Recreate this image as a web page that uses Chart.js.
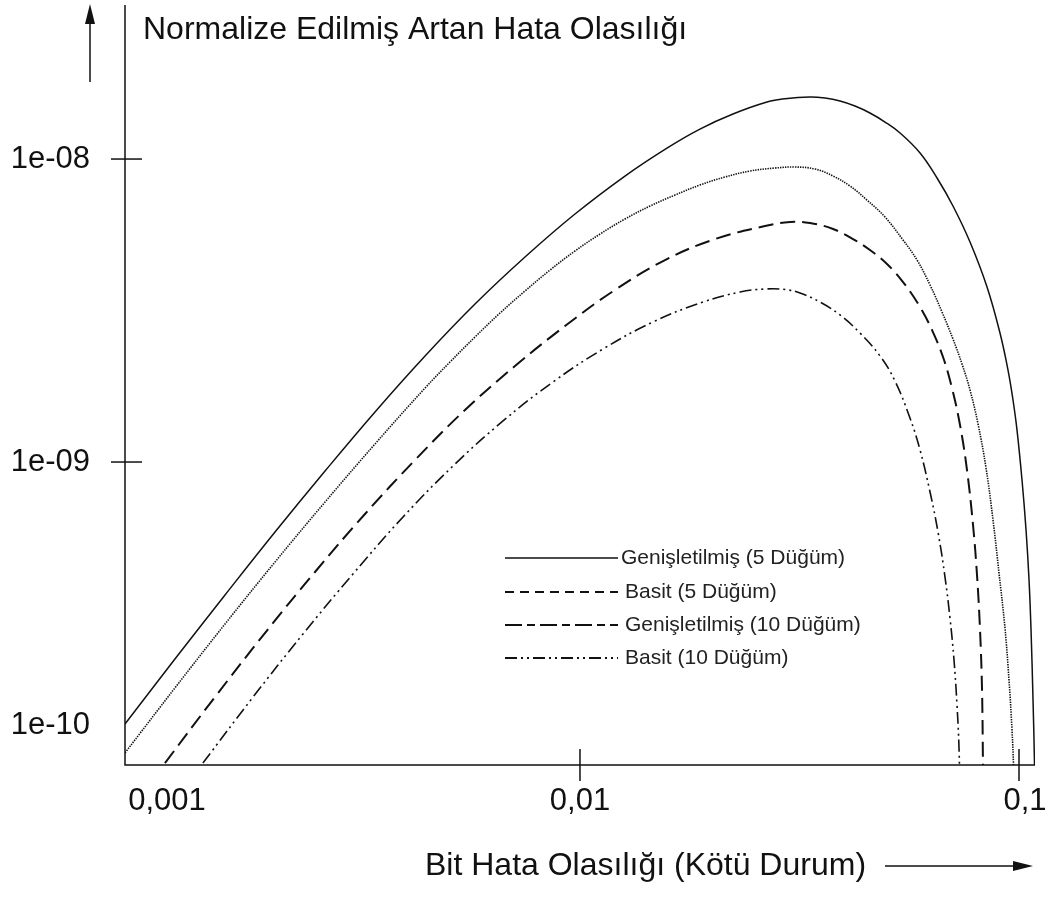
<!DOCTYPE html>
<html>
<head>
<meta charset="utf-8">
<script src="https://cdn.jsdelivr.net/npm/chart.js@4"></script>
<style>
html, body { margin: 0; padding: 0; background: #fff; }
#wrap { width: 1048px; height: 914px; position: relative; }
</style>
</head>
<body>
<div id="wrap"><canvas id="graph"></canvas></div>
<script>
// series labels (legend order)
var seriesLabels = ["Genişletilmiş (5 Düğüm)", "Basit (5 Düğüm)", "Genişletilmiş (10 Düğüm)", "Basit (10 Düğüm)"]

// Genişletilmiş (5 Düğüm) - solid
var genis5X = [9.196e-4, 1.195e-3, 1.554e-3, 2.020e-3, 2.626e-3, 3.413e-3, 4.437e-3, 5.766e-3, 7.495e-3, 9.741e-3, 1.266e-2, 1.578e-2, 1.876e-2, 2.231e-2, 2.667e-2, 2.931e-2, 3.341e-2, 3.615e-2, 3.911e-2, 4.231e-2, 4.576e-2, 4.952e-2, 5.358e-2, 5.951e-2, 6.506e-2, 7.073e-2, 7.734e-2, 8.456e-2, 9.051e-2, 9.440e-2, 9.690e-2, 9.896e-2, 0.10159, 0.10376, 0.10540, 0.10651, 0.10763, 0.10848, 0.10875]
var genis5Y = [1.366e-10, 2.238e-10, 3.640e-10, 5.875e-10, 9.339e-10, 1.463e-9, 2.238e-9, 3.322e-9, 4.749e-9, 6.585e-9, 8.789e-9, 1.087e-8, 1.256e-8, 1.408e-8, 1.542e-8, 1.581e-8, 1.602e-8, 1.589e-8, 1.554e-8, 1.496e-8, 1.419e-8, 1.325e-8, 1.219e-8, 1.047e-8, 8.657e-9, 6.997e-9, 5.322e-9, 3.781e-9, 2.665e-9, 2.012e-9, 1.602e-9, 1.275e-9, 8.723e-10, 5.965e-10, 4.078e-10, 2.789e-10, 1.639e-10, 1.0e-10, 7.66e-11]

// Basit (5 Düğüm) - dotted
var basit5X = [9.196e-4, 1.195e-3, 1.554e-3, 2.020e-3, 2.626e-3, 3.413e-3, 4.437e-3, 5.057e-3, 5.766e-3, 6.575e-3, 7.495e-3, 8.545e-3, 9.741e-3, 1.111e-2, 1.266e-2, 1.444e-2, 1.646e-2, 1.876e-2, 2.140e-2, 2.439e-2, 2.781e-2, 3.089e-2, 3.430e-2, 3.771e-2, 4.121e-2, 4.505e-2, 4.952e-2, 5.443e-2, 5.858e-2, 6.271e-2, 6.678e-2, 7.073e-2, 7.416e-2, 7.734e-2, 8.066e-2, 8.412e-2, 8.726e-2, 9.004e-2, 9.291e-2, 9.488e-2, 9.640e-2, 9.716e-2, 9.767e-2]
var basit5Y = [1.096e-10, 1.796e-10, 2.920e-10, 4.677e-10, 7.379e-10, 1.147e-9, 1.755e-9, 2.138e-9, 2.586e-9, 3.103e-9, 3.668e-9, 4.301e-9, 4.971e-9, 5.655e-9, 6.339e-9, 6.997e-9, 7.606e-9, 8.209e-9, 8.723e-9, 9.130e-9, 9.339e-9, 9.410e-9, 9.268e-9, 8.789e-9, 8.146e-9, 7.323e-9, 6.436e-9, 5.404e-9, 4.642e-9, 3.839e-9, 3.127e-9, 2.547e-9, 2.106e-9, 1.729e-9, 1.335e-9, 9.554e-10, 6.436e-10, 4.301e-10, 2.832e-10, 1.908e-10, 1.305e-10, 1.0e-10, 7.66e-11]

// Genişletilmiş (10 Düğüm) - long dash
var genis10X = [1.134e-3, 1.474e-3, 1.916e-3, 2.491e-3, 3.238e-3, 4.209e-3, 5.471e-3, 7.111e-3, 9.243e-3, 1.201e-2, 1.562e-2, 2.031e-2, 2.639e-2, 3.009e-2, 3.341e-2, 3.771e-2, 4.187e-2, 4.576e-2, 5.004e-2, 5.443e-2, 5.951e-2, 6.337e-2, 6.713e-2, 7.036e-2, 7.339e-2, 7.613e-2, 7.857e-2, 8.023e-2, 8.151e-2, 8.237e-2, 8.279e-2, 8.301e-2]
var genis10Y = [1.015e-10, 1.676e-10, 2.726e-10, 4.335e-10, 6.737e-10, 1.015e-9, 1.485e-9, 2.074e-9, 2.810e-9, 3.696e-9, 4.642e-9, 5.445e-9, 6.011e-9, 6.197e-9, 6.150e-9, 5.875e-9, 5.445e-9, 5.009e-9, 4.502e-9, 3.927e-9, 3.248e-9, 2.726e-9, 2.221e-9, 1.755e-9, 1.325e-9, 9.410e-10, 6.197e-10, 4.237e-10, 2.789e-10, 1.769e-10, 1.0e-10, 7.66e-11]

// Basit (10 Düğüm) - dash dot dot
var basit10X = [1.384e-3, 1.800e-3, 2.339e-3, 3.040e-3, 3.953e-3, 5.137e-3, 6.678e-3, 8.679e-3, 1.128e-2, 1.466e-2, 1.906e-2, 2.315e-2, 2.639e-2, 2.931e-2, 3.171e-2, 3.522e-2, 3.911e-2, 4.343e-2, 4.825e-2, 5.218e-2, 5.645e-2, 5.951e-2, 6.271e-2, 6.539e-2, 6.783e-2, 6.963e-2, 7.111e-2, 7.224e-2, 7.300e-2, 7.339e-2]
var basit10Y = [1.015e-10, 1.676e-10, 2.706e-10, 4.269e-10, 6.585e-10, 9.701e-10, 1.366e-9, 1.837e-9, 2.360e-9, 2.898e-9, 3.373e-9, 3.640e-9, 3.724e-9, 3.710e-9, 3.612e-9, 3.373e-9, 3.057e-9, 2.665e-9, 2.238e-9, 1.851e-9, 1.397e-9, 1.096e-9, 7.961e-10, 5.875e-10, 4.172e-10, 3.057e-10, 2.221e-10, 1.577e-10, 1.138e-10, 7.66e-11]

var xTicks = [0.001, 0.01, 0.1]
var xTickLabels = ["0,001", "0,01", "0,1"]
var yTicks = [1e-10, 1e-9, 1e-8]
var yTickLabels = ["1e-10", "1e-09", "1e-08"]

var yTitle = "Normalize Edilmiş Artan Hata Olasılığı"
var xTitle = "Bit Hata Olasılığı (Kötü Durum)"

const toPoints = (xs, ys) => xs.map((x, i) => ({x: x, y: ys[i]}))

var lineDashes = [[], [1.4, 1.1], [15, 7], [12, 4, 2, 4, 2, 4]]
var lineWidths = [1.5, 1.6, 2, 1.6]
var legendDashes = [[], [9, 6], [17, 5, 8, 5], [12, 4, 2, 4, 2, 4]]

const FONT = '"Liberation Sans", Arial, sans-serif'

function arrowHead(ctx, x, y, dir){
    ctx.beginPath()
    if(dir == "up"){
        ctx.moveTo(x, y)
        ctx.lineTo(x - 5, y + 20)
        ctx.lineTo(x + 5, y + 20)
    } else {
        ctx.moveTo(x, y)
        ctx.lineTo(x - 20, y - 5)
        ctx.lineTo(x - 20, y + 5)
    }
    ctx.closePath()
    ctx.fill()
}

const decorPlugin = {
    id: "decor",
    afterDraw(chart){
        const ctx = chart.ctx
        const area = chart.chartArea
        const xs = chart.scales.x
        const ys = chart.scales.y
        ctx.save()
        ctx.strokeStyle = "#111"
        ctx.fillStyle = "#111"
        ctx.lineWidth = 1.5
        ctx.setLineDash([])

        // axes
        ctx.beginPath()
        ctx.moveTo(area.left, area.top)
        ctx.lineTo(area.left, area.bottom)
        ctx.lineTo(area.right, area.bottom)
        ctx.stroke()

        // x ticks
        ctx.font = "31px " + FONT
        ctx.textAlign = "center"
        ctx.textBaseline = "middle"
        xTicks.forEach((v, i) => {
            let px = xs.getPixelForValue(v)
            if(px > area.left + 20){
                ctx.beginPath()
                ctx.moveTo(px, area.bottom - 16)
                ctx.lineTo(px, area.bottom + 16)
                ctx.stroke()
            }
            let lx = Math.max(px, area.left + 42)
            if(i == xTicks.length - 1) lx = px + 6
            ctx.fillText(xTickLabels[i], lx, area.bottom + 36)
        })

        // y ticks
        ctx.textAlign = "right"
        yTicks.forEach((v, i) => {
            let py = ys.getPixelForValue(v)
            if(py < area.bottom - 20){
                ctx.beginPath()
                ctx.moveTo(area.left - 14, py)
                ctx.lineTo(area.left + 17, py)
                ctx.stroke()
            }
            ctx.fillText(yTickLabels[i], 90, Math.min(py, area.bottom - 40))
        })

        // axis titles with arrows
        ctx.font = "32px " + FONT
        ctx.textAlign = "left"
        ctx.fillText(yTitle, 143, 30)
        ctx.fillText(xTitle, 425, 866)

        ctx.beginPath()
        ctx.moveTo(90, 82)
        ctx.lineTo(90, 20)
        ctx.stroke()
        arrowHead(ctx, 90, 4, "up")

        ctx.beginPath()
        ctx.moveTo(885, 866)
        ctx.lineTo(1015, 866)
        ctx.stroke()
        arrowHead(ctx, 1033, 866, "right")

        // legend
        let rows = [558, 592, 625, 658]
        ctx.font = "21px " + FONT
        ctx.fillStyle = "#222"
        seriesLabels.forEach((lab, i) => {
            ctx.setLineDash(legendDashes[i])
            ctx.lineWidth = i == 0 ? 1.6 : 2
            ctx.beginPath()
            ctx.moveTo(505, rows[i])
            ctx.lineTo(618, rows[i])
            ctx.stroke()
            ctx.fillText(lab, i == 0 ? 621 : 625, rows[i])
        })
        ctx.restore()
    }
}

var seriesX = [genis5X, basit5X, genis10X, basit10X]
var seriesY = [genis5Y, basit5Y, genis10Y, basit10Y]

var chartMain = new Chart(document.getElementById("graph").getContext("2d"), {
    type: "line",
    data: {
        datasets: seriesLabels.map((lab, i) => ({
            label: lab,
            data: toPoints(seriesX[i], seriesY[i]),
            borderColor: "#111",
            borderWidth: lineWidths[i],
            borderDash: lineDashes[i],
            pointRadius: 0,
            fill: false,
            tension: 0.4
        }))
    },
    options: {
        responsive: true,
        maintainAspectRatio: false,
        animation: false,
        layout: { padding: { left: 125, right: 13, top: 5, bottom: 149 } },
        plugins: {
            legend: { display: false },
            tooltip: { enabled: false }
        },
        scales: {
            x: { type: "logarithmic", min: 9.197e-4, max: 0.10875, display: false },
            y: { type: "logarithmic", min: 1e-10, max: 3.224e-8, display: false }
        }
    },
    plugins: [decorPlugin]
})
</script>
</body>
</html>
